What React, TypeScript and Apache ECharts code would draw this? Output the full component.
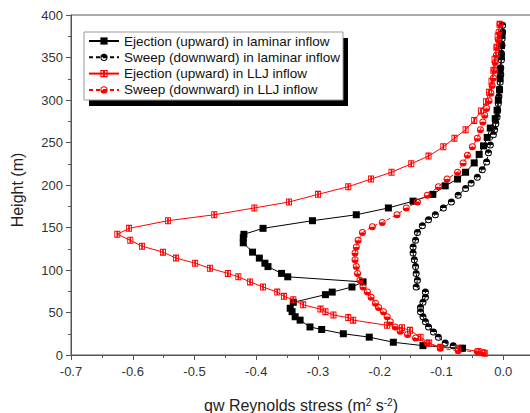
import React, { useEffect, useRef } from "react";
import * as echarts from "echarts";

// [value, height]
const ejectionLaminar: number[][] = [
  [-0.002, 376], [-0.003, 364], [-0.003, 351], [-0.005, 336], [-0.005, 326], [-0.006, 312], [-0.008, 300], [-0.010, 288],
  [-0.013, 278], [-0.021, 267], [-0.026, 256], [-0.032, 246], [-0.039, 236], [-0.047, 226], [-0.061, 215], [-0.074, 207],
  [-0.094, 199], [-0.114, 189], [-0.146, 181], [-0.186, 173], [-0.238, 165], [-0.309, 158], [-0.389, 149], [-0.420, 142],
  [-0.421, 138], [-0.421, 132], [-0.406, 121], [-0.395, 114], [-0.386, 108], [-0.381, 104], [-0.359, 96], [-0.349, 92],
  [-0.227, 86], [-0.245, 80], [-0.277, 74], [-0.288, 71], [-0.340, 62], [-0.345, 55], [-0.342, 51], [-0.337, 45],
  [-0.329, 41], [-0.313, 33], [-0.294, 30], [-0.259, 25], [-0.217, 21], [-0.178, 15], [-0.130, 11], [-0.066, 8],
];

const sweepLaminar: number[][] = [
  [-0.001, 388], [-0.001, 380], [-0.002, 372], [-0.002, 364], [-0.003, 355], [-0.003, 347], [-0.004, 338], [-0.004, 330],
  [-0.005, 321], [-0.006, 313], [-0.007, 304], [-0.008, 296], [-0.009, 288], [-0.010, 280], [-0.012, 272], [-0.014, 265],
  [-0.016, 259], [-0.021, 247], [-0.024, 238], [-0.027, 227], [-0.034, 218], [-0.042, 209], [-0.052, 202], [-0.061, 196],
  [-0.073, 188], [-0.084, 180], [-0.097, 173], [-0.110, 165], [-0.121, 159], [-0.131, 152], [-0.139, 144], [-0.142, 135],
  [-0.146, 127], [-0.146, 120], [-0.144, 112], [-0.142, 104], [-0.141, 96], [-0.139, 88], [-0.141, 80], [-0.126, 74],
  [-0.126, 68], [-0.130, 62], [-0.134, 56], [-0.134, 51], [-0.130, 45], [-0.126, 39], [-0.121, 33], [-0.113, 27],
  [-0.105, 21], [-0.094, 14], [-0.081, 11], [-0.066, 8],
];

const ejectionLLJ: number[][] = [
  [-0.006, 389], [-0.009, 375], [-0.011, 362], [-0.014, 348], [-0.016, 335], [-0.019, 322], [-0.023, 309], [-0.028, 298],
  [-0.036, 287], [-0.047, 276], [-0.061, 265], [-0.079, 255], [-0.097, 245], [-0.121, 234], [-0.149, 225], [-0.181, 215],
  [-0.214, 207], [-0.251, 198], [-0.300, 189], [-0.347, 180], [-0.403, 173], [-0.468, 165], [-0.543, 158], [-0.606, 149],
  [-0.625, 142], [-0.604, 135], [-0.585, 128], [-0.551, 121], [-0.530, 114], [-0.499, 108], [-0.475, 102], [-0.446, 96],
  [-0.429, 92], [-0.410, 86], [-0.389, 80], [-0.366, 74], [-0.355, 69], [-0.340, 65], [-0.324, 59], [-0.296, 54],
  [-0.288, 51], [-0.275, 47], [-0.251, 44], [-0.243, 41], [-0.188, 35], [-0.164, 32], [-0.151, 29], [-0.134, 21],
  [-0.120, 14], [-0.102, 9], [-0.073, 8], [-0.040, 4], [-0.030, 2],
];

const sweepLLJ: number[][] = [
  [-0.005, 389], [-0.007, 380], [-0.008, 371], [-0.010, 362], [-0.011, 353], [-0.013, 344], [-0.014, 335], [-0.016, 326],
  [-0.018, 317], [-0.020, 308], [-0.023, 299], [-0.027, 290], [-0.030, 282], [-0.033, 274], [-0.037, 265], [-0.042, 255],
  [-0.050, 245], [-0.058, 235], [-0.065, 226], [-0.074, 215], [-0.091, 207], [-0.105, 198], [-0.123, 188], [-0.139, 180],
  [-0.157, 173], [-0.172, 165], [-0.196, 156], [-0.212, 151], [-0.228, 144], [-0.235, 135], [-0.238, 127], [-0.240, 120],
  [-0.240, 112], [-0.238, 104], [-0.236, 96], [-0.232, 88], [-0.227, 80], [-0.220, 74], [-0.214, 68], [-0.207, 61],
  [-0.202, 56], [-0.194, 51], [-0.188, 45], [-0.183, 39], [-0.175, 33], [-0.167, 28], [-0.155, 24], [-0.142, 20],
  [-0.123, 14], [-0.102, 8], [-0.073, 5], [-0.042, 4], [-0.032, 3],
];

const seriesNames = [
  "Ejection (upward) in laminar inflow",
  "Sweep (downward) in laminar inflow",
  "Ejection (upward) in LLJ inflow",
  "Sweep (downward) in LLJ inflow",
];

const xTitle = "qw Reynolds stress (m{sup|2} s{sup|-2})";
const yTitle = "Height (m)";

const FONT = '"Liberation Sans", Arial, sans-serif';

const circleTopHalf =
  "path://M0,5A5,5 0 1,1 10,5A5,5 0 1,1 0,5Z M1.4,5A3.6,3.6 0 1,0 8.6,5A3.6,3.6 0 1,0 1.4,5Z M1.4,5A3.6,3.6 0 0,1 8.6,5Z";
const circleBottomHalf =
  "path://M0,5A5,5 0 1,1 10,5A5,5 0 1,1 0,5Z M1.4,5A3.6,3.6 0 1,0 8.6,5A3.6,3.6 0 1,0 1.4,5Z M1.4,5A3.6,3.6 0 0,0 8.6,5Z";
const squareBar =
  "path://M0,0L10,0L10,10L0,10Z M1.5,1.5L1.5,8.5L8.5,8.5L8.5,1.5Z M3.6,1.5L6.4,1.5L6.4,8.5L3.6,8.5Z";

export default function App() {
  const ref = useRef<HTMLDivElement>(null);
  useEffect(() => {
    if (!ref.current) return;
    const chart = echarts.init(ref.current, undefined, { renderer: "svg" });
    const black = "#000000";
    const red = "#ff0000";
    chart.setOption({
      animation: false,
      backgroundColor: "#ffffff",
      grid: {
        left: 71,
        top: 15,
        width: 494,
        height: 340,
        outerBoundsMode: "none",
        containLabel: false,
        show: true,
        borderColor: "#555",
        borderWidth: 1,
      },
      xAxis: {
        type: "value",
        min: -0.7,
        max: 0.1,
        interval: 0.1,
        axisLine: { show: true, onZero: false, lineStyle: { color: "#555", width: 1 } },
        axisTick: { show: true, length: 5, lineStyle: { color: "#555" } },
        minorTick: { show: true, splitNumber: 2, length: 3, lineStyle: { color: "#555" } },
        splitLine: { show: false },
        axisLabel: {
          margin: 10,
          fontSize: 13,
          fontFamily: FONT,
          color: "#333",
          formatter: (v: number) => (v > 0.05 ? "" : v.toFixed(1)),
        },
      },
      yAxis: {
        type: "value",
        min: 0,
        max: 400,
        interval: 50,
        axisLine: { show: true, onZero: false, lineStyle: { color: "#555", width: 1 } },
        axisTick: { show: true, length: 5, lineStyle: { color: "#555" } },
        minorTick: { show: true, splitNumber: 2, length: 3, lineStyle: { color: "#555" } },
        splitLine: { show: false },
        axisLabel: { margin: 8, fontSize: 13, fontFamily: FONT, color: "#333" },
      },
      legend: {
        orient: "vertical",
        left: 88,
        top: 34,
        padding: 0,
        itemWidth: 30,
        itemHeight: 9,
        itemGap: 2.3,
        z: 10,
        textStyle: { fontSize: 13.5, fontFamily: FONT, color: "#111" },
        data: seriesNames,
      },
      graphic: [
        { type: "rect", z: 5, shape: { x: 89, y: 38, width: 259, height: 68 }, style: { fill: "#000" } },
        {
          type: "rect",
          z: 6,
          shape: { x: 84, y: 32, width: 259, height: 68 },
          style: { fill: "#fff", stroke: "#999", lineWidth: 1 },
        },
        {
          type: "text",
          x: 17,
          y: 190,
          rotation: Math.PI / 2,
          style: {
            text: yTitle,
            fontSize: 16,
            fontFamily: FONT,
            fill: "#222",
            align: "center",
            verticalAlign: "middle",
          },
        },
        {
          type: "text",
          x: 301,
          y: 405,
          style: {
            text: xTitle,
            fontSize: 16,
            fontFamily: FONT,
            fill: "#222",
            align: "center",
            verticalAlign: "middle",
            rich: {
              sup: { fontSize: 10, fontFamily: FONT, fill: "#222", verticalAlign: "top" },
            },
          },
        },
      ],
      series: [
        {
          name: seriesNames[0],
          type: "line",
          data: ejectionLaminar,
          symbol: "rect",
          symbolSize: 7,
          itemStyle: { color: black },
          lineStyle: { color: black, width: 1 },
        },
        {
          name: seriesNames[1],
          type: "line",
          data: sweepLaminar,
          symbol: circleTopHalf,
          symbolSize: 7,
          itemStyle: { color: black },
          lineStyle: { color: black, width: 1, type: [4, 3] },
        },
        {
          name: seriesNames[2],
          type: "line",
          data: ejectionLLJ,
          symbol: squareBar,
          symbolSize: [6, 7],
          itemStyle: { color: red },
          lineStyle: { color: red, width: 1 },
        },
        {
          name: seriesNames[3],
          type: "line",
          data: sweepLLJ,
          symbol: circleBottomHalf,
          symbolSize: 7,
          itemStyle: { color: red },
          lineStyle: { color: red, width: 1, type: [4, 3] },
        },
      ],
    });
    return () => chart.dispose();
  }, []);
  return (
    <div
      ref={ref}
      style={{ position: "absolute", left: 0, top: 0, width: 530, height: 413 }}
    />
  );
}
